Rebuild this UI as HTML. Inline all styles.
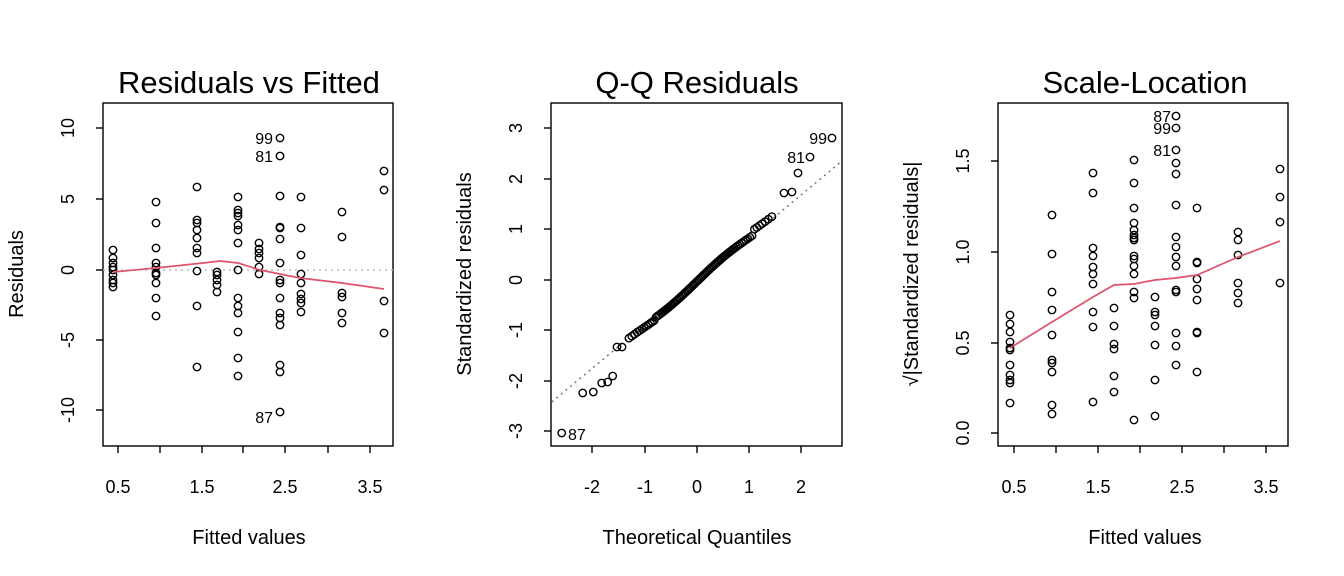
<!DOCTYPE html>
<html><head><meta charset="utf-8"><style>
html,body{margin:0;padding:0;background:#fff;}
svg{display:block;font-family:"Liberation Sans",Arial,sans-serif;}
</style></head><body>
<svg id="s" width="1344" height="576" xmlns="http://www.w3.org/2000/svg">
<rect width="1344" height="576" fill="#fff"/>
<g fill="none" stroke="#000" stroke-width="1.4">
<rect x="103" y="103" width="290" height="343"/>
<rect x="551" y="103" width="291" height="343"/>
<rect x="998" y="103" width="290" height="343"/>
</g>
<g font-size="31" text-anchor="middle" fill="#000">
<text x="249" y="93">Residuals vs Fitted</text>
<text x="697" y="93">Q-Q Residuals</text>
<text x="1145" y="93">Scale-Location</text>
</g>
<g font-size="20" text-anchor="middle" fill="#000">
<text x="249" y="544">Fitted values</text>
<text x="697" y="544">Theoretical Quantiles</text>
<text x="1145" y="544">Fitted values</text>
<text transform="translate(23,274) rotate(-90)">Residuals</text>
<text transform="translate(471,274) rotate(-90)">Standardized residuals</text>
<text transform="translate(918,274) rotate(-90)">√|Standardized residuals|</text>
</g>
<g id="ax" stroke="#000" stroke-width="1.4" fill="none"></g>
<g id="tx" font-size="18" text-anchor="middle" fill="#000"></g>
<line x1="103" y1="270" x2="393" y2="270" stroke="#bbb" stroke-width="1.5" stroke-dasharray="2,4"/>
<line x1="551.7" y1="402" x2="842" y2="161" stroke="#777" stroke-width="1.5" stroke-dasharray="2,4"/>
<g id="pts" fill="none" stroke="#000" stroke-width="1.4"></g>
<polyline fill="none" stroke="#DF536B" stroke-width="1.7" points="113,272 156,268 203,263 220,261 238,263 260,270 300,278 342,283 384,289"/>
<polyline fill="none" stroke="#DF536B" stroke-width="1.7" points="1010,348 1052,322 1093,297 1114,285 1134,284 1155,280 1176,278 1197,275 1238,257 1280,241"/>
<g font-size="16" fill="#000" text-anchor="end">
<text x="273" y="144">99</text><text x="273" y="162">81</text><text x="273" y="423">87</text>
<text x="827" y="144">99</text><text x="805" y="163">81</text>
<text x="1171" y="122">87</text><text x="1171" y="134">99</text><text x="1171" y="156">81</text>
</g>
<text x="568" y="440" font-size="16" fill="#000">87</text>
</svg>
<script>
var NS="http://www.w3.org/2000/svg";
function el(p,t,a,txt){var e=document.createElementNS(NS,t);for(var k in a)e.setAttribute(k,a[k]);if(txt!==undefined)e.textContent=txt;document.getElementById(p).appendChild(e);}
[[118,160,202,243,285,328,370],[1014,1056,1098,1140,1182,1224,1266]].forEach(function(xs){xs.forEach(function(x){el('ax','line',{x1:x,y1:446,x2:x,y2:453});});
 ['0.5','1.5','2.5','3.5'].forEach(function(l,i){el('tx','text',{x:xs[i*2],y:493},l);});});
[592,645,697,749,801].forEach(function(x,i){el('ax','line',{x1:x,y1:446,x2:x,y2:453});el('tx','text',{x:x,y:493},['-2','-1','0','1','2'][i]);});
function yt(bx,ys,ls){ys.forEach(function(y,i){el('ax','line',{x1:bx,y1:y,x2:bx-7,y2:y});el('tx','text',{transform:'translate('+(bx-29)+','+y+') rotate(-90)'},ls[i]);});}
yt(103,[128,199,270,340,410],['10','5','0','-5','-10']);
yt(551,[128,179,229,280,330,381,431],['3','2','1','0','-1','-2','-3']);
yt(998,[161,252,343,433],['1.5','1.0','0.5','0.0']);
function pts(cols){cols.forEach(function(c){c[1].forEach(function(y){el('pts','circle',{cx:c[0],cy:y,r:3.7});});});}
pts([[113,[250,258,263,267,270,275,280,283,287]],[156,[202,223,248,263,267,273,275,283,298,316]],
[197,[187,220,223,230,238,248,253,271,306,367]],[217,[272,275,280,285,292]],
[238,[197,210,213,216,225,230,243,270,298,306,313,332,358,376]],[259,[243,249,253,258,267,274]],
[280,[138,156,196,227,228,239,263,280,283,298,313,318,325,365,372,412]],[301,[197,228,255,274,283,294,299,303,312]],
[342,[212,237,293,297,313,323]],[384,[171,190,301,333]]]);
pts([[1010,[315,324,332,342,348,350,365,375,380,383,403]],[1052,[215,254,292,310,335,360,363,372,405,414]],
[1093,[173,193,248,256,267,274,284,312,327,402]],[1114,[308,326,344,349,376,392]],
[1134,[160,183,208,223,230,235,238,240,256,259,266,274,292,298,420]],[1155,[297,312,315,326,345,380,416]],
[1176,[116,128,150,163,174,205,237,247,257,266,290,292,333,346,365]],[1197,[208,262,263,279,289,300,332,333,372]],
[1238,[232,240,255,283,293,303]],[1280,[169,197,222,283]]]);
[[561.7,433],[582.7,393],[593.3,392],[601.7,383],[607.7,382],[612.7,376],[617,347],[622,347],[784,193],[792,192],[798,173],[810,157],[832,138]].forEach(function(p){el('pts','circle',{cx:p[0],cy:p[1],r:3.7});});
function qn(p){var a=[-39.696830,220.946098,-275.928510,138.357751,-30.664798,2.506628],b=[-54.476098,161.585836,-155.698979,66.801311,-13.280681],c=[-0.007784894,-0.3223964,-2.400758,-2.549732,4.374664,2.938163],d=[0.007784695,0.3224671,2.445134,3.754408];
var q,r;if(p<0.02425){q=Math.sqrt(-2*Math.log(p));return (((((c[0]*q+c[1])*q+c[2])*q+c[3])*q+c[4])*q+c[5])/((((d[0]*q+d[1])*q+d[2])*q+d[3])*q+1);}
if(p>1-0.02425){q=Math.sqrt(-2*Math.log(1-p));return -(((((c[0]*q+c[1])*q+c[2])*q+c[3])*q+c[4])*q+c[5])/((((d[0]*q+d[1])*q+d[2])*q+d[3])*q+1);}
q=p-0.5;r=q*q;return (((((a[0]*r+a[1])*r+a[2])*r+a[3])*r+a[4])*r+a[5])*q/(((((b[0]*r+b[1])*r+b[2])*r+b[3])*r+b[4])*r+1);}
for(var i=10;i<=93;i++){var t=qn((i-0.5)/100);var x=697+52*t;var y=402+(x-551.7)*(-0.830);
 var w=Math.sin(t*3.0);y+= -2.5*w+ (t<-0.8?2:0) + (t>1.1?-5:0);
 el('pts','circle',{cx:x.toFixed(1),cy:y.toFixed(1),r:3.7});}
</script>
</body></html>
